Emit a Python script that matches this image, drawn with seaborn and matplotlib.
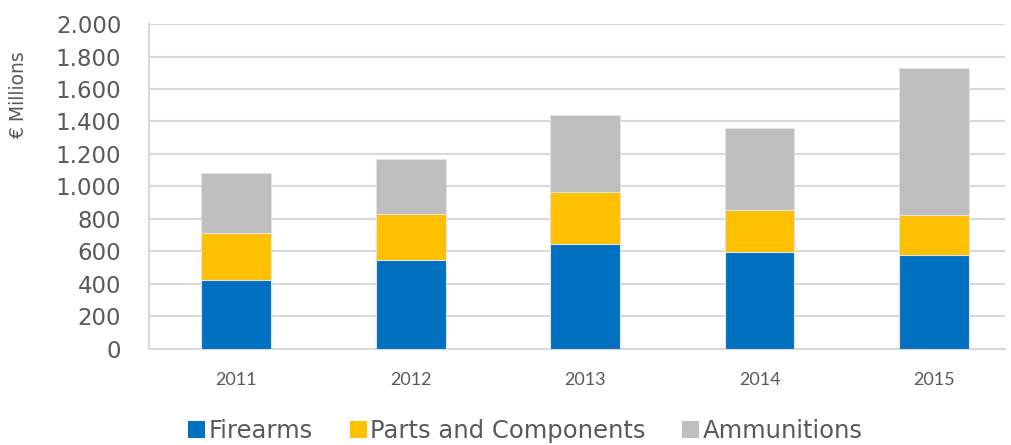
import numpy as np
import pandas as pd
import seaborn as sns
import matplotlib.pyplot as plt
from matplotlib.patches import Patch

years = ['2011', '2012', '2013', '2014', '2015']
firearms = [423, 546, 646, 599, 580]
parts = [289, 285, 320, 256, 247]
ammunitions = [369, 336, 476, 507, 902]

series_names = ['Firearms', 'Parts and Components', 'Ammunitions']
colors = ['#0070c0', '#ffc000', '#bfbfbf']

df = pd.DataFrame({'year': years, 'Firearms': firearms,
                   'Parts and Components': parts, 'Ammunitions': ammunitions})
# cumulative tops for stacking
df['top_parts'] = df['Firearms'] + df['Parts and Components']
df['top_ammo'] = df['top_parts'] + df['Ammunitions']

sns.set_style('white')
plt.rcParams['font.family'] = ['DejaVu Sans']

fig = plt.figure(figsize=(10.11, 4.45), dpi=100)
ax = fig.add_axes([0.1475, 0.216, 0.847, 0.73])

for col, c in zip(['top_ammo', 'top_parts', 'Firearms'], colors[::-1]):
    sns.barplot(data=df, x='year', y=col, order=years, color=c, width=0.4,
                edgecolor='#e3e3e3', linewidth=0.8, saturation=1, ax=ax, zorder=3)

ax.set_ylim(0, 2000)
ax.set_xlim(-0.5, 4.41)
ax.set_yticks(np.arange(0, 2001, 200))
ax.set_yticklabels([f'{v:,}'.replace(',', '.') for v in range(0, 2001, 200)],
                   fontsize=16.5, color='#595959')
ax.set_xticks(range(len(years)))
ax.set_xticklabels(years, fontsize=13, color='#595959', family=['Lato', 'DejaVu Sans'])
ax.tick_params(axis='x', length=0, pad=17)
ax.tick_params(axis='y', length=0, pad=20)
ax.grid(axis='y', color='#d9d9d9', linewidth=1.5, zorder=0)
ax.set_axisbelow(True)
for s in ['top', 'right']:
    ax.spines[s].set_visible(False)
for s in ['left', 'bottom']:
    ax.spines[s].set_color('#d9d9d9')
    ax.spines[s].set_linewidth(1.5)
ax.set_xlabel('')
ax.set_ylabel('€ Millions', fontsize=13.5, color='#595959')
ax.yaxis.set_label_coords(-0.141, 0.78)

handles = [Patch(facecolor=c, edgecolor='none') for c in colors]
fig.legend(handles, series_names, loc='lower center', bbox_to_anchor=(0.52, -0.045),
           ncol=3, frameon=False, fontsize=17.5, handlelength=0.7, handleheight=0.7,
           handletextpad=0.15, columnspacing=1.5, labelcolor='#595959')

fig.savefig('out.png', dpi=100)
